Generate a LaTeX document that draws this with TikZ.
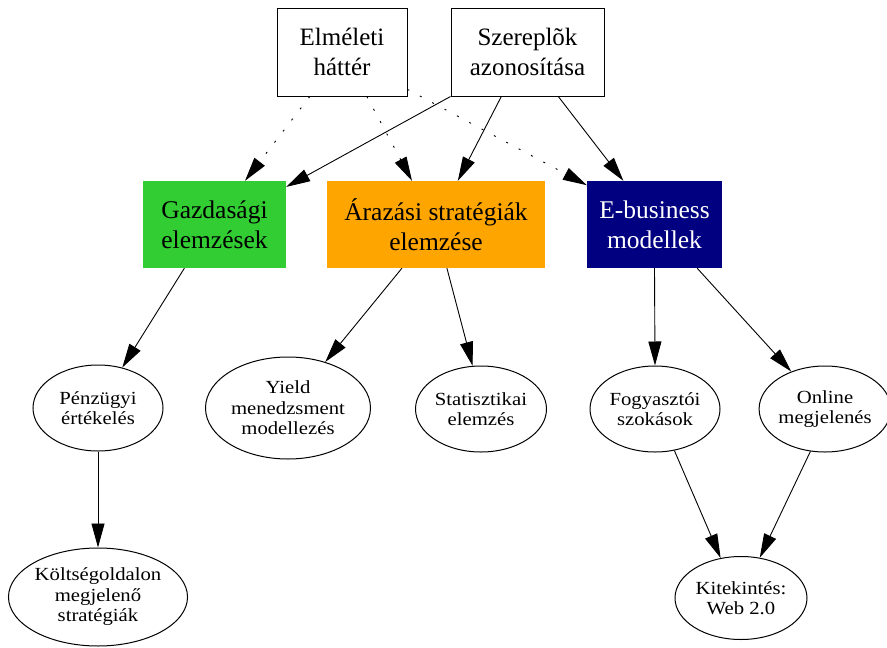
\documentclass[tikz,border=0pt]{standalone}
\usepackage{fontspec}
\setmainfont{Liberation Serif}
\newfontfamily\ellfont[FakeStretch=1.12]{Liberation Serif}
\usetikzlibrary{arrows.meta,shapes.geometric,calc}
\definecolor{gazgreen}{RGB}{50,205,50}
\definecolor{araorange}{RGB}{255,165,0}
\definecolor{ebunavy}{RGB}{0,0,128}
\begin{document}
\begin{tikzpicture}[x=1pt,y=-1pt,
  topbox/.style={draw=black,line width=1pt,rectangle,inner sep=0pt,align=center,
    font=\fontsize{25}{30}\selectfont},
  colbox/.style={rectangle,inner sep=0pt,align=center,minimum height=87pt,
    font=\fontsize{25.5}{30}\selectfont},
  leaf/.style={draw=black,line width=1pt,ellipse,inner sep=0pt,align=center,
    font=\ellfont\fontsize{18.5}{20.5}\selectfont},
  edge/.style={line width=0.9pt,-{Triangle[length=24pt,width=13pt]}},
  dotedge/.style={edge,dash pattern=on 2pt off 12pt}]
\useasboundingbox (0,0) rectangle (887,648);

% top row
\node[topbox,minimum width=130pt,minimum height=88pt] (elm) at (342,52) {Elméleti\\háttér};
\node[topbox,minimum width=153pt,minimum height=88pt] (sze) at (527.5,52) {Szereplõk\\azonosítása};

% coloured analysis boxes
\node[colbox,fill=gazgreen,minimum width=143pt] (gaz) at (214.5,224.5) {Gazdasági\\elemzések};
\node[colbox,fill=araorange,minimum width=218pt] (ara) at (436,224.5) {Árazási stratégiák\\elemzése};
\node[colbox,fill=ebunavy,text=white,minimum width=135pt] (ebu) at (654.5,224.5) {E-business\\modellek};

% ellipses
\node[leaf,minimum width=130pt,minimum height=86pt] (pen) at (98,408) {Pénzügyi\\értékelés};
\node[leaf,minimum width=165pt,minimum height=102pt] (yie) at (288,408) {Yield\\menedzsment\\modellezés};
\node[leaf,minimum width=131pt,minimum height=86pt] (sta) at (481,409) {Statisztikai\\elemzés};
\node[leaf,minimum width=130pt,minimum height=86pt] (fog) at (655,409) {Fogyasztói\\szokások};
\node[leaf,minimum width=126pt,minimum height=86pt] (onl) at (825,409) {Online\\megjelenés};
\node[leaf,minimum width=176pt,minimum height=98pt] (kol) at (98,597) {Költségoldalon\\megjelenő\\stratégiák};
\node[leaf,minimum width=132pt,minimum height=83pt] (kit) at (741,598) {Kitekintés:\\Web 2.0};

% dotted links from the theory box
\draw[dotedge] ($(elm.south west)!0.254!(elm.south east)$) -- ($(gaz.north west)!0.713!(gaz.north east)$);
\draw[dotedge] ($(elm.south west)!0.69!(elm.south east)$) -- ($(ara.north west)!0.39!(ara.north east)$);
\draw[dotedge] ($(elm.north east)!0.92!(elm.south east)$) -- ($(ebu.north west)!0.05!(ebu.south west)$);

% solid links from the actors box
\draw[edge] (sze.south west) -- ($(gaz.north east)!0.07!(gaz.south east)$);
\draw[edge] ($(sze.south west)!0.33!(sze.south east)$) -- ($(ara.north west)!0.6!(ara.north east)$);
\draw[edge] ($(sze.south west)!0.70!(sze.south east)$) -- ($(ebu.north west)!0.27!(ebu.north east)$);

% boxes to ellipses
\draw[edge] ($(gaz.south west)!0.29!(gaz.south east)$) -- (pen.59);
\draw[edge] ($(ara.south west)!0.344!(ara.south east)$) -- (yie.51);
\draw[edge] ($(ara.south west)!0.55!(ara.south east)$) -- (sta.101);
\draw[edge] (ebu.south) -- (fog.north);
\draw[edge] ($(ebu.south west)!0.815!(ebu.south east)$) -- (onl.132);

% lower level
\draw[edge] (pen.south) -- (kol.north);
\draw[edge] (fog.295) -- (kit.117);
\draw[edge] (onl.251) -- (kit.65);
\end{tikzpicture}
\end{document}
